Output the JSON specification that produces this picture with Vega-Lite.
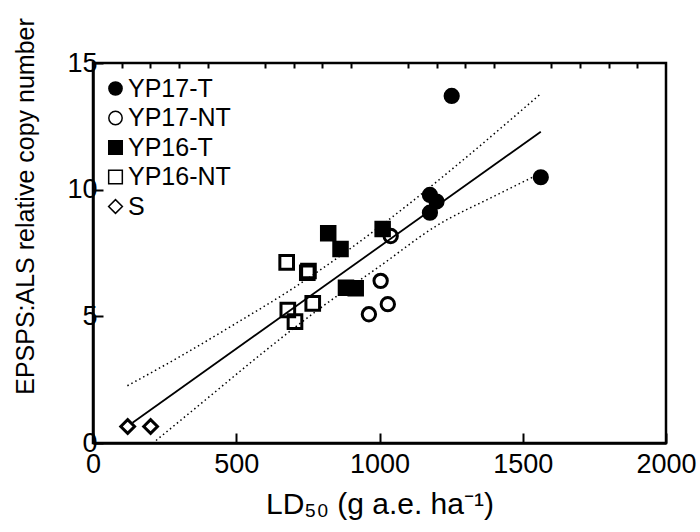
{
  "$schema": "https://vega.github.io/schema/vega-lite/v6.json",
  "width": 573,
  "height": 380,
  "autosize": {"type": "none"},
  "padding": {"left": 93, "top": 63, "right": 34, "bottom": 89},
  "background": "white",
  "config": {
    "font": "Liberation Sans",
    "view": {"stroke": "black", "strokeWidth": 2.5},
    "axis": {
      "domainColor": "black", "domainWidth": 2.5,
      "tickColor": "black", "tickWidth": 2,
      "labelColor": "black", "titleColor": "black",
      "grid": false, "labelFlush": false, "labelOverlap": false,
      "labelFont": "Liberation Sans", "titleFont": "Liberation Sans",
      "titleFontWeight": "normal"
    },
    "legend": {
      "title": null, "orient": "none", "legendX": 10, "legendY": 13, "padding": 0,
      "labelFontSize": 25, "labelColor": "black", "labelFont": "Liberation Sans",
      "symbolStrokeWidth": 1.5, "symbolStrokeColor": "black", "symbolOpacity": 1,
      "rowPadding": 3.5, "labelOffset": 0
    }
  },
  "datasets": {
    "points": [
      {"x": 1252, "y": 13.7, "group": "YP17-T"},
      {"x": 1563, "y": 10.49, "group": "YP17-T"},
      {"x": 1176, "y": 9.79, "group": "YP17-T"},
      {"x": 1199, "y": 9.53, "group": "YP17-T"},
      {"x": 1176, "y": 9.09, "group": "YP17-T"},
      {"x": 1039, "y": 8.17, "group": "YP17-NT"},
      {"x": 1004, "y": 6.40, "group": "YP17-NT"},
      {"x": 1029, "y": 5.48, "group": "YP17-NT"},
      {"x": 963, "y": 5.08, "group": "YP17-NT"},
      {"x": 821, "y": 8.28, "group": "YP16-T"},
      {"x": 864, "y": 7.66, "group": "YP16-T"},
      {"x": 1011, "y": 8.45, "group": "YP16-T"},
      {"x": 883, "y": 6.13, "group": "YP16-T"},
      {"x": 917, "y": 6.11, "group": "YP16-T"},
      {"x": 676, "y": 7.13, "group": "YP16-NT"},
      {"x": 752, "y": 6.79, "group": "YP16-NT"},
      {"x": 748, "y": 6.72, "group": "YP16-NT"},
      {"x": 767, "y": 5.51, "group": "YP16-NT"},
      {"x": 680, "y": 5.25, "group": "YP16-NT"},
      {"x": 705, "y": 4.79, "group": "YP16-NT"},
      {"x": 121, "y": 0.65, "group": "S"},
      {"x": 201, "y": 0.65, "group": "S"}
    ],
    "fit": [
      {"x": 138, "y": 0.80, "series": "fit"},
      {"x": 1563, "y": 12.29, "series": "fit"},
      {"x": 120, "y": 2.26, "series": "upper"},
      {"x": 300, "y": 3.39, "series": "upper"},
      {"x": 500, "y": 4.73, "series": "upper"},
      {"x": 700, "y": 6.12, "series": "upper"},
      {"x": 900, "y": 7.69, "series": "upper"},
      {"x": 1100, "y": 9.41, "series": "upper"},
      {"x": 1300, "y": 11.25, "series": "upper"},
      {"x": 1558, "y": 13.74, "series": "upper"},
      {"x": 220, "y": 0.10, "series": "lower"},
      {"x": 400, "y": 1.77, "series": "lower"},
      {"x": 600, "y": 3.63, "series": "lower"},
      {"x": 800, "y": 5.38, "series": "lower"},
      {"x": 1000, "y": 6.97, "series": "lower"},
      {"x": 1200, "y": 8.58, "series": "lower"},
      {"x": 1400, "y": 9.74, "series": "lower"},
      {"x": 1545, "y": 10.55, "series": "lower"}
    ]
  },
  "layer": [
    {
      "data": {"name": "points"},
      "mark": {"type": "point", "filled": true, "stroke": "black", "strokeWidth": 3, "opacity": 1},
      "encoding": {
        "x": {
          "field": "x", "type": "quantitative",
          "scale": {"domain": [0, 2000], "nice": false, "zero": false},
          "axis": {
            "values": [0, 500, 1000, 1500, 2000], "format": "d",
            "tickSize": -10, "labelFontSize": 27, "labelPadding": 18,
            "title": "LD₅₀ (g a.e. ha⁻¹)", "titleFontSize": 30,
            "titleY": 70, "titleBaseline": "alphabetic"
          }
        },
        "y": {
          "field": "y", "type": "quantitative",
          "scale": {"domain": [0, 15], "nice": false, "zero": false},
          "axis": {
            "values": [0, 5, 10, 15], "format": "d",
            "tickSize": -10, "labelFontSize": 27, "labelPadding": 6,
            "title": "EPSPS:ALS relative copy number", "titleFontSize": 25,
            "titleX": -60, "titleY": 143, "titleBaseline": "alphabetic", "titleAlign": "center", "titleAngle": -90
          }
        },
        "shape": {
          "field": "group", "type": "nominal",
          "scale": {"domain": ["YP17-T", "YP17-NT", "YP16-T", "YP16-NT", "S"], "range": ["circle", "circle", "square", "square", "diamond"]},
          "legend": {
            "labelExpr": "indexof(datum.label, 'YP16') == 0 ? '\u00a0' + datum.label : datum.label",
            "encode": {"symbols": {"update": {"stroke": {"value": "black"}, "strokeWidth": {"value": 1.5}, "opacity": {"value": 1}, "size": {"value": 190}}}}
          }
        },
        "fill": {
          "field": "group", "type": "nominal",
          "scale": {"domain": ["YP17-T", "YP17-NT", "YP16-T", "YP16-NT", "S"], "range": ["black", "transparent", "black", "transparent", "transparent"]},
          "legend": {
            "labelExpr": "indexof(datum.label, 'YP16') == 0 ? '\u00a0' + datum.label : datum.label",
            "encode": {"symbols": {"update": {"stroke": {"value": "black"}, "strokeWidth": {"value": 1.5}, "opacity": {"value": 1}, "size": {"value": 190}}}}
          }
        },
        "size": {
          "field": "group", "type": "nominal",
          "scale": {"domain": ["YP17-T", "YP17-NT", "YP16-T", "YP16-NT", "S"], "range": [175, 190, 230, 230, 470]},
          "legend": {
            "labelExpr": "indexof(datum.label, 'YP16') == 0 ? '\u00a0' + datum.label : datum.label",
            "encode": {"symbols": {"update": {"stroke": {"value": "black"}, "strokeWidth": {"value": 1.5}, "opacity": {"value": 1}, "size": {"value": 190}}}}
          }
        }
      }
    },
    {
      "data": {"name": "fit"},
      "transform": [{"filter": "datum.series == 'fit'"}],
      "mark": {"type": "line", "color": "black", "strokeWidth": 1.8},
      "encoding": {
        "x": {
          "field": "x", "type": "quantitative",
          "axis": {
            "values": [100, 200, 300, 400, 600, 700, 800, 900, 1100, 1200, 1300, 1400, 1600, 1700, 1800, 1900],
            "tickSize": -5, "labels": false, "domain": false, "title": null
          }
        },
        "y": {"field": "y", "type": "quantitative"}
      }
    },
    {
      "data": {"name": "fit"},
      "transform": [{"filter": "datum.series != 'fit'"}],
      "mark": {"type": "line", "color": "black", "strokeWidth": 1.5, "strokeDash": [1.5, 3], "interpolate": "monotone"},
      "encoding": {
        "x": {"field": "x", "type": "quantitative", "axis": null},
        "y": {"field": "y", "type": "quantitative"},
        "detail": {"field": "series", "type": "nominal"}
      }
    }
  ],
  "resolve": {"axis": {"x": "independent"}}
}
